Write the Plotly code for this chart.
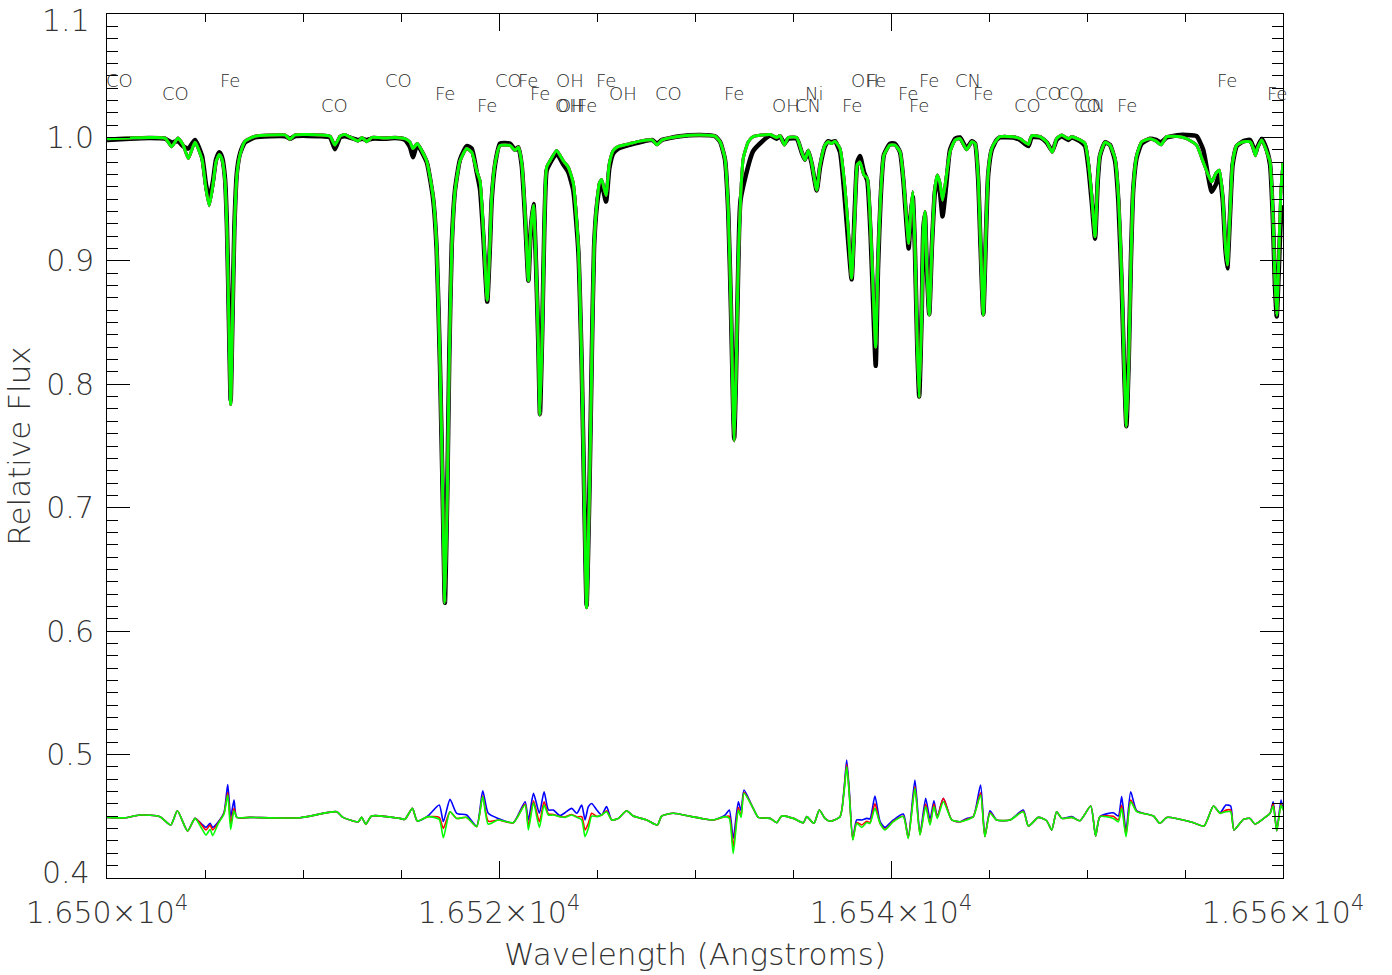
import plotly.graph_objects as go

# ---------------- data ----------------
wave = [
16500.00, 16501.17, 16502.19, 16502.96, 16503.30, 16503.62, 16503.88, 16504.15, 16504.49, 16504.85,
16505.05, 16505.22, 16505.41, 16505.56, 16505.73, 16505.87, 16506.02, 16506.12, 16506.22, 16506.31,
16506.40, 16506.50, 16506.63, 16506.79, 16507.04, 16507.55, 16508.32, 16509.08, 16509.34, 16509.59,
16510.87, 16511.38, 16511.63, 16511.89, 16512.14, 16512.82, 16513.01, 16513.25, 16513.52, 16514.18,
16514.69, 16515.20, 16515.46, 16515.61, 16515.83, 16516.31, 16516.64, 16516.82, 16516.99, 16517.13,
16517.24, 16517.36, 16517.46, 16517.59, 16517.76, 16518.01, 16518.35, 16518.61, 16518.86, 16519.03,
16519.20, 16519.40, 16519.54, 16519.63, 16519.80, 16520.05, 16520.56, 16520.82, 16520.99, 16521.16,
16521.33, 16521.50, 16521.62, 16521.76, 16521.89, 16522.01, 16522.09, 16522.21, 16522.31, 16522.43,
16522.60, 16522.94, 16523.28, 16523.53, 16523.79, 16524.05, 16524.22, 16524.35, 16524.47, 16524.61,
16524.73, 16524.85, 16524.99, 16525.12, 16525.24, 16525.46, 16525.63, 16525.83, 16526.09, 16526.68,
16527.19, 16527.81, 16528.06, 16528.32, 16529.23, 16530.26, 16531.02, 16531.28, 16531.53, 16531.70,
16531.84, 16531.95, 16532.00, 16532.09, 16532.21, 16532.33, 16532.46, 16532.72, 16532.97, 16533.83,
16534.17, 16534.34, 16534.56, 16534.76, 16535.19, 16535.44, 16535.61, 16535.78, 16535.95, 16536.21,
16536.38, 16536.63, 16536.80, 16536.97, 16537.14, 16537.40, 16537.60, 16537.82, 16537.99, 16538.16,
16538.28, 16538.42, 16538.62, 16538.79, 16538.96, 16539.10, 16539.22, 16539.34, 16539.47, 16539.64,
16539.95, 16540.20, 16540.46, 16540.63, 16540.80, 16540.90, 16541.01, 16541.11, 16541.22, 16541.34,
16541.44, 16541.57, 16541.65, 16541.73, 16541.82, 16541.95, 16542.09, 16542.24, 16542.36, 16542.50,
16542.63, 16542.81, 16543.01, 16543.27, 16543.52, 16543.86, 16544.12, 16544.29, 16544.45, 16544.57,
16544.71, 16544.85, 16544.96, 16545.14, 16545.39, 16545.56, 16546.24, 16546.58, 16547.01, 16547.18,
16547.60, 16547.94, 16548.23, 16548.45, 16548.71, 16549.05, 16549.22, 16549.64, 16549.90, 16550.07,
16550.24, 16550.41, 16550.55, 16550.66, 16550.92, 16551.17, 16551.43, 16551.60, 16551.77, 16551.89,
16552.01, 16552.13, 16552.24, 16552.36, 16552.54, 16552.79, 16553.21, 16553.52, 16553.78, 16554.07,
16554.74, 16555.08, 16555.59, 16555.93, 16556.19, 16556.36, 16556.58, 16556.75, 16556.92, 16557.06,
16557.16, 16557.30, 16557.43, 16557.64, 16557.98, 16558.32, 16558.49, 16558.59, 16558.69, 16558.92,
16559.17, 16559.34, 16559.48, 16559.59, 16559.68, 16559.78, 16559.88, 16560.00]

flux_model = [
0.999, 0.9995, 1.000, 0.9995, 0.9925, 0.9995, 0.994, 0.983, 0.996, 0.982,
0.958, 0.9447, 0.962, 0.980, 0.9862, 0.982, 0.965, 0.925, 0.850, 0.7838,
0.850, 0.925, 0.970, 0.986, 0.997, 1.001, 1.002, 1.002, 0.9985, 1.002,
1.002, 1.001, 0.9938, 1.001, 1.0024, 0.997, 1.000, 0.9966, 1.000, 0.9995,
1.000, 0.999, 0.9962, 0.991, 0.995, 0.981, 0.952, 0.911, 0.817, 0.709,
0.623, 0.709, 0.817, 0.911, 0.957, 0.981, 0.991, 0.988, 0.973, 0.965,
0.925, 0.868, 0.915, 0.952, 0.979, 0.9935, 0.9935, 0.9895, 0.992, 0.979,
0.938, 0.884, 0.925, 0.945, 0.898, 0.830, 0.775, 0.844, 0.925, 0.976,
0.981, 0.9895, 0.981, 0.976, 0.963, 0.911, 0.817, 0.709, 0.619, 0.709,
0.817, 0.911, 0.946, 0.963, 0.966, 0.953, 0.979, 0.9895, 0.9927, 0.995,
0.997, 0.998, 0.994, 0.998, 1.001, 1.002, 1.001, 0.9965, 0.983, 0.940,
0.859, 0.778, 0.754, 0.805, 0.900, 0.953, 0.983, 0.9965, 1.0006, 1.0024,
1.000, 1.0015, 0.9938, 1.000, 1.000, 0.9884, 0.9816, 0.9897, 0.980, 0.9573,
0.9776, 0.9938, 0.9965, 0.995, 0.997, 0.991, 0.967, 0.926, 0.886, 0.940,
0.978, 0.980, 0.9695, 0.967, 0.926, 0.872, 0.830, 0.900, 0.953, 0.9857,
0.9938, 0.9938, 0.9884, 0.967, 0.932, 0.914, 0.940, 0.956, 0.913, 0.832,
0.789, 0.859, 0.926, 0.940, 0.899, 0.856, 0.913, 0.9587, 0.9695, 0.963,
0.9492, 0.967, 0.9884, 0.9978, 0.999, 0.990, 0.9965, 0.995, 0.967, 0.913,
0.856, 0.926, 0.972, 0.991, 0.998, 1.0006, 1.0006, 0.999, 0.9943, 1.0014,
1.0006, 0.9965, 0.9879, 0.999, 1.0019, 0.999, 1.0006, 0.998, 0.995, 0.980,
0.953, 0.9196, 0.967, 0.9857, 0.996, 0.9938, 0.983, 0.953, 0.886, 0.818,
0.7657, 0.818, 0.899, 0.9587, 0.9857, 0.9965, 0.999, 0.997, 0.994, 1.0006,
1.0006, 0.999, 0.9938, 0.980, 0.9695, 0.964, 0.971, 0.9735, 0.953, 0.913,
0.8966, 0.940, 0.980, 0.9938, 0.9965, 0.9965, 0.991, 0.9852, 0.991, 0.998,
0.9884, 0.980, 0.940, 0.886, 0.856, 0.899, 0.953, 0.980]

flux_obs = [
0.998, 0.999, 0.9995, 0.999, 0.996, 0.997, 0.993, 0.991, 0.998, 0.985,
0.962, 0.950, 0.965, 0.982, 0.988, 0.984, 0.967, 0.928, 0.852, 0.787,
0.852, 0.928, 0.972, 0.987, 0.996, 1.000, 1.001, 1.001, 0.999, 1.001,
1.001, 1.000, 0.9905, 1.000, 1.001, 0.998, 0.999, 0.998, 0.999, 0.999,
0.9995, 0.998, 0.992, 0.984, 0.994, 0.980, 0.950, 0.909, 0.815, 0.707,
0.623, 0.711, 0.820, 0.913, 0.958, 0.982, 0.993, 0.991, 0.972, 0.958,
0.920, 0.867, 0.913, 0.950, 0.978, 0.995, 0.995, 0.990, 0.992, 0.977,
0.935, 0.884, 0.925, 0.946, 0.897, 0.830, 0.776, 0.846, 0.925, 0.973,
0.979, 0.987, 0.978, 0.972, 0.957, 0.907, 0.815, 0.709, 0.621, 0.711,
0.819, 0.911, 0.944, 0.958, 0.962, 0.948, 0.975, 0.987, 0.991, 0.994,
0.996, 0.998, 0.995, 0.998, 1.001, 1.002, 1.001, 0.9965, 0.982, 0.938,
0.857, 0.778, 0.756, 0.805, 0.898, 0.950, None, None, 0.989, 1.0015,
0.999, 1.001, 0.995, 0.999, 0.999, 0.988, 0.982, 0.989, 0.979, 0.957,
0.976, 0.993, 0.997, 0.996, 0.997, 0.988, 0.958, 0.915, 0.885, 0.945,
0.980, 0.985, 0.972, 0.965, 0.920, 0.860, 0.815, 0.895, 0.950, 0.986,
0.995, 0.995, 0.988, 0.965, 0.928, 0.910, 0.938, 0.952, 0.910, 0.830,
0.790, 0.860, 0.926, 0.938, 0.897, 0.857, 0.913, 0.956, 0.966, 0.955,
0.936, 0.960, 0.990, 0.999, 1.000, 0.991, 0.997, 0.995, 0.965, 0.911,
0.857, 0.924, 0.970, 0.990, 0.998, 1.000, 1.000, 0.998, 0.993, 1.000,
1.000, 0.996, 0.989, 0.998, 1.001, 0.998, 1.000, 0.997, 0.993, 0.976,
0.948, 0.918, 0.965, 0.985, 0.996, 0.994, 0.981, 0.948, 0.880, 0.815,
0.766, 0.820, 0.900, 0.958, 0.984, 0.995, 0.999, 0.998, 0.996, 1.000,
1.002, 1.002, 1.001, 0.990, 0.968, 0.956, 0.962, 0.970, 0.950, 0.910,
0.894, 0.938, 0.978, 0.993, 0.997, 0.998, 0.992, 0.987, 0.992, 0.999,
0.990, 0.978, 0.935, 0.880, 0.855, 0.890, 0.930, 0.945]

wave_res = [
16500.00, 16500.92, 16501.68, 16502.70, 16503.25, 16503.59, 16504.11, 16504.49, 16504.83, 16505.05,
16505.26, 16505.39, 16505.68, 16505.97, 16506.16, 16506.31, 16506.48, 16506.62, 16507.30, 16509.85,
16511.72, 16512.04, 16512.82, 16512.99, 16513.21, 16513.50, 16514.95, 16515.20, 16515.58, 16515.83,
16516.39, 16516.95, 16517.16, 16517.50, 16517.84, 16518.35, 16518.86, 16519.17, 16519.45, 16519.96,
16520.73, 16521.33, 16521.50, 16521.76, 16522.06, 16522.30, 16522.52, 16522.77, 16523.11, 16523.37,
16523.71, 16523.97, 16524.22, 16524.39, 16524.56, 16524.73, 16524.99, 16525.24, 16525.49, 16525.75,
16526.09, 16526.51, 16526.85, 16527.54, 16528.08, 16528.30, 16528.89, 16529.83, 16530.42, 16530.93,
16531.53, 16531.75, 16531.95, 16532.21, 16532.35, 16532.50, 16532.97, 16533.23, 16533.83, 16534.17,
16534.42, 16535.02, 16535.53, 16535.70, 16536.07, 16536.34, 16536.63, 16536.89, 16537.40, 16537.60,
16537.74, 16537.87, 16538.05, 16538.25, 16538.51, 16538.76, 16538.93, 16539.18, 16539.44, 16539.69,
16540.12, 16540.63, 16540.88, 16541.22, 16541.48, 16541.77, 16541.99, 16542.19, 16542.36, 16542.67,
16543.10, 16543.52, 16543.86, 16544.20, 16544.57, 16544.79, 16545.05, 16545.39, 16546.07, 16546.75,
16547.01, 16547.52, 16547.94, 16548.20, 16548.45, 16548.71, 16549.22, 16549.64, 16550.19, 16550.44,
16550.66, 16551.34, 16551.60, 16551.77, 16551.99, 16552.23, 16552.54, 16553.39, 16553.72, 16554.07,
16555.43, 16555.97, 16556.45, 16556.79, 16557.09, 16557.33, 16557.50, 16557.98, 16558.32, 16558.57,
16559.08, 16559.34, 16559.50, 16559.68, 16559.90, 16560.00]

res_blue = [
0.4491, 0.4488, 0.4510, 0.4497, 0.4429, 0.4545, 0.4381, 0.4483, 0.4437, 0.4410,
0.4443, 0.4410, 0.4456, 0.4530, 0.4758, 0.4491, 0.4632, 0.4491, 0.4491, 0.4488,
0.4537, 0.4491, 0.4456, 0.4491, 0.4437, 0.4502, 0.4483, 0.4475, 0.4564, 0.4462,
0.4505, 0.4591, 0.4456, 0.4637, 0.4524, 0.4510, 0.4420, 0.4707, 0.4524, 0.4483,
0.4448, 0.4618, 0.4470, 0.4686, 0.4524, 0.4699, 0.4551, 0.4551, 0.4505, 0.4529,
0.4564, 0.4524, 0.4591, 0.4470, 0.4578, 0.4604, 0.4551, 0.4510, 0.4578, 0.4470,
0.4483, 0.4545, 0.4502, 0.4470, 0.4429, 0.4502, 0.4524, 0.4497, 0.4480, 0.4470,
0.4510, 0.4551, 0.4321, 0.4618, 0.4545, 0.4713, 0.4564, 0.4491, 0.4483, 0.4448,
0.4502, 0.4483, 0.4448, 0.4497, 0.4443, 0.4551, 0.4483, 0.4460, 0.4497, 0.4713,
0.4956, 0.4713, 0.4320, 0.4470, 0.4470, 0.4483, 0.4480, 0.4664, 0.4460, 0.4410,
0.4470, 0.4518, 0.4330, 0.4794, 0.4360, 0.4645, 0.4475, 0.4626, 0.4497, 0.4645,
0.4470, 0.4456, 0.4483, 0.4497, 0.4753, 0.4340, 0.4545, 0.4470, 0.4470, 0.4551,
0.4421, 0.4491, 0.4464, 0.4389, 0.4537, 0.4483, 0.4497, 0.4464, 0.4583, 0.4340,
0.4497, 0.4529, 0.4502, 0.4659, 0.4380, 0.4699, 0.4545, 0.4502, 0.4443, 0.4491,
0.4448, 0.4421, 0.4583, 0.4529, 0.4591, 0.4583, 0.4389, 0.4475, 0.4483, 0.4437,
0.4491, 0.4524, 0.4618, 0.4383, 0.4632, 0.4551]

res_red = [
0.4491, 0.4488, 0.4510, 0.4497, 0.4429, 0.4545, 0.4381, 0.4483, 0.4429, 0.4389,
0.4429, 0.4389, 0.4448, 0.4524, 0.4691, 0.4440, 0.4564, 0.4491, 0.4491, 0.4488,
0.4537, 0.4491, 0.4456, 0.4491, 0.4437, 0.4502, 0.4483, 0.4475, 0.4564, 0.4462,
0.4497, 0.4491, 0.4402, 0.4537, 0.4483, 0.4491, 0.4416, 0.4665, 0.4460, 0.4470,
0.4448, 0.4600, 0.4420, 0.4626, 0.4456, 0.4618, 0.4520, 0.4515, 0.4497, 0.4495,
0.4515, 0.4495, 0.4497, 0.4389, 0.4443, 0.4524, 0.4500, 0.4510, 0.4545, 0.4470,
0.4483, 0.4545, 0.4502, 0.4470, 0.4429, 0.4502, 0.4524, 0.4497, 0.4480, 0.4470,
0.4497, 0.4500, 0.4254, 0.4570, 0.4500, 0.4695, 0.4564, 0.4491, 0.4483, 0.4448,
0.4502, 0.4483, 0.4448, 0.4497, 0.4443, 0.4551, 0.4483, 0.4460, 0.4497, 0.4700,
0.4920, 0.4690, 0.4312, 0.4450, 0.4430, 0.4460, 0.4450, 0.4604, 0.4443, 0.4395,
0.4460, 0.4500, 0.4325, 0.4740, 0.4350, 0.4600, 0.4440, 0.4600, 0.4490, 0.4645,
0.4470, 0.4456, 0.4475, 0.4497, 0.4690, 0.4337, 0.4530, 0.4470, 0.4470, 0.4540,
0.4421, 0.4491, 0.4464, 0.4389, 0.4537, 0.4483, 0.4491, 0.4464, 0.4583, 0.4340,
0.4497, 0.4500, 0.4470, 0.4590, 0.4350, 0.4632, 0.4540, 0.4502, 0.4443, 0.4491,
0.4448, 0.4421, 0.4583, 0.4524, 0.4550, 0.4550, 0.4389, 0.4475, 0.4483, 0.4437,
0.4491, 0.4524, 0.4600, 0.4383, 0.4600, 0.4551]

res_green = [
0.4491, 0.4488, 0.4510, 0.4497, 0.4429, 0.4545, 0.4381, 0.4483, 0.4402, 0.4348,
0.4394, 0.4343, 0.4443, 0.4518, 0.4672, 0.4394, 0.4545, 0.4491, 0.4491, 0.4488,
0.4537, 0.4491, 0.4456, 0.4491, 0.4437, 0.4502, 0.4483, 0.4475, 0.4564, 0.4462,
0.4497, 0.4475, 0.4327, 0.4537, 0.4483, 0.4491, 0.4416, 0.4659, 0.4437, 0.4470,
0.4448, 0.4591, 0.4389, 0.4610, 0.4410, 0.4591, 0.4510, 0.4510, 0.4497, 0.4491,
0.4510, 0.4491, 0.4470, 0.4335, 0.4402, 0.4502, 0.4497, 0.4510, 0.4537, 0.4470,
0.4483, 0.4545, 0.4502, 0.4470, 0.4429, 0.4502, 0.4524, 0.4497, 0.4480, 0.4470,
0.4497, 0.4483, 0.4199, 0.4551, 0.4491, 0.4686, 0.4564, 0.4491, 0.4483, 0.4448,
0.4502, 0.4483, 0.4448, 0.4497, 0.4443, 0.4551, 0.4483, 0.4460, 0.4497, 0.4690,
0.4902, 0.4680, 0.4308, 0.4443, 0.4410, 0.4450, 0.4443, 0.4564, 0.4443, 0.4389,
0.4456, 0.4497, 0.4321, 0.4726, 0.4348, 0.4578, 0.4429, 0.4578, 0.4483, 0.4618,
0.4470, 0.4456, 0.4470, 0.4497, 0.4672, 0.4335, 0.4524, 0.4470, 0.4470, 0.4537,
0.4421, 0.4491, 0.4464, 0.4389, 0.4537, 0.4483, 0.4491, 0.4464, 0.4583, 0.4340,
0.4497, 0.4483, 0.4456, 0.4564, 0.4335, 0.4618, 0.4537, 0.4502, 0.4443, 0.4491,
0.4448, 0.4421, 0.4583, 0.4524, 0.4537, 0.4537, 0.4389, 0.4475, 0.4483, 0.4437,
0.4491, 0.4524, 0.4583, 0.4383, 0.4591, 0.4551]

label_text = ["CO", "CO", "Fe", "CO", "CO", "Fe", "Fe", "CO", "Fe", "Fe",
              "OH", "Fe", "OH", "OH", "OH", "Fe", "CO", "Fe", "OH", "CN",
              "Ni", "Fe", "OH", "Fe", "Fe", "Fe", "Fe", "CN", "Fe", "CO",
              "CO", "CO", "CO", "CN", "Fe", "Fe", "Fe"]
label_wave = [16500.66, 16503.52, 16506.28, 16511.63, 16514.85, 16517.24, 16519.39, 16520.46, 16521.48, 16522.09,
              16523.62, 16525.46, 16526.33, 16523.57, 16523.67, 16524.49, 16528.67, 16531.99, 16534.64, 16535.77,
              16536.07, 16538.01, 16538.67, 16539.23, 16540.87, 16541.94, 16541.43, 16543.93, 16544.69, 16546.94,
              16548.01, 16549.18, 16550.05, 16550.26, 16552.04, 16557.14, 16559.69]
label_level = [1, 2, 1, 3, 1, 2, 3, 1, 1, 2,
               1, 1, 2, 3, 3, 3, 2, 2, 3, 3,
               2, 3, 1, 1, 2, 1, 3, 1, 2, 3,
               2, 2, 3, 3, 3, 1, 2]
level_flux = {1: 1.0461, 2: 1.0352, 3: 1.0255}

# inner y ticks are labelled by the axis; the two end labels sit just inside the frame
y_tick_vals = [0.5, 0.6, 0.7, 0.8, 0.9, 1.0]
y_end_labels = ["0.4", "1.1"]
x_tick_vals = [16500, 16520, 16540, 16560]
x_tick_text = ["1.650×10<sup>4</sup>", "1.652×10<sup>4</sup>", "1.654×10<sup>4</sup>", "1.656×10<sup>4</sup>"]

FONT = "DejaVu Sans"
TXT = "#333333"

fig = go.Figure()
fig.add_trace(go.Scatter(x=wave, y=flux_obs, mode="lines", connectgaps=True,
                         line=dict(color="black", width=4.5, shape="spline", smoothing=0.5)))
for col, w in [("#0000ff", 3), ("#ff0000", 3), ("#00ff00", 3)]:
    fig.add_trace(go.Scatter(x=wave, y=flux_model, mode="lines",
                             line=dict(color=col, width=w, shape="spline", smoothing=0.5)))
for col, vals in [("#0000ff", res_blue), ("#ff0000", res_red), ("#00ff00", res_green)]:
    fig.add_trace(go.Scatter(x=wave_res, y=vals, mode="lines",
                             line=dict(color=col, width=1.6, shape="spline", smoothing=0.6)))

for t, w, lv in zip(label_text, label_wave, label_level):
    fig.add_annotation(x=w, y=level_flux[lv], text=t, showarrow=False, xref="x", yref="y",
                       xanchor="center", yanchor="middle",
                       font=dict(family=FONT, size=18, color="#2a2a2a", weight=200))

# end labels of the y axis (placed slightly inside the frame, as in the reference)
for txt, ypos in zip(y_end_labels, [0.006, 0.9925]):
    fig.add_annotation(x=-0.0128, y=ypos, xref="paper", yref="paper", text=txt,
                       showarrow=False, xanchor="right", yanchor="middle",
                       font=dict(family=FONT, size=30, color=TXT, weight=200))

fig.update_layout(
    width=1392, height=975,
    margin=dict(l=107, r=109, t=14, b=97),
    plot_bgcolor="white", paper_bgcolor="white",
    showlegend=False,
    font=dict(family=FONT, size=30, color=TXT, weight=200),
)
fig.update_xaxes(
    range=[16500, 16560], tickmode="array", tickvals=x_tick_vals, ticktext=x_tick_text,
    ticks="inside", ticklen=17, tickwidth=1, tickcolor="black",
    showline=True, linecolor="black", linewidth=1, mirror="ticks",
    showgrid=False, zeroline=False, ticklabelstandoff=8, automargin=False,
    ticklabeloverflow="allow",
    minor=dict(tickmode="linear", tick0=16500, dtick=5, ticks="inside", ticklen=8,
               tickcolor="black", tickwidth=1, showgrid=False),
    title=dict(text="Wavelength (Angstroms)", standoff=14,
               font=dict(family=FONT, size=31, color=TXT, weight=200)),
)
fig.update_yaxes(
    range=[0.4, 1.1], tickmode="array", tickvals=y_tick_vals, tickformat=".1f",
    ticks="inside", ticklen=23, tickwidth=1, tickcolor="black",
    showline=True, linecolor="black", linewidth=1, mirror="ticks",
    showgrid=False, zeroline=False, ticklabelstandoff=6, automargin=False,
    ticklabeloverflow="allow",
    minor=dict(tickmode="linear", tick0=0.4, dtick=0.01, ticks="inside", ticklen=11,
               tickcolor="black", tickwidth=1, showgrid=False),
    title=dict(text="Relative Flux", standoff=6,
               font=dict(family=FONT, size=31, color=TXT, weight=200)),
)

fig.write_html("out.html")
